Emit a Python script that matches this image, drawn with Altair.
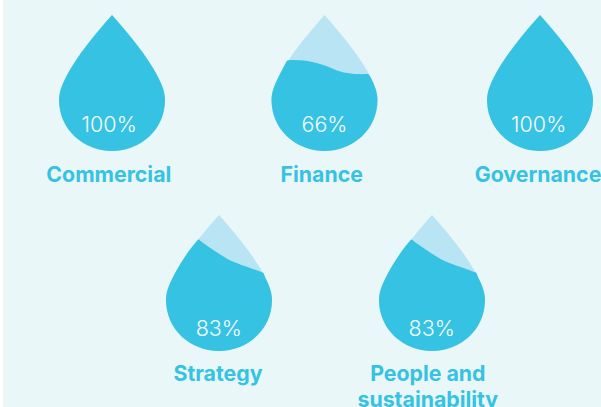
import altair as alt
import pandas as pd

# Values shown by the five drops
categories = ["Commercial", "Finance", "Governance", "Strategy", "People and\nsustainability"]
percent = [100, 66, 100, 83, 83]
slots = [0, 2, 4, 1, 3]
rows = [0, 0, 0, 1, 1]

INK = "#36C2E2"
PALE = "#B9E4F3"
PANEL = "#EAF7F9"

# Outline of a drop, in pixels from its tip (a point of size 4 draws at scale 1)
RIGHT_TAIL = "C50,70 53,77 53,85 C53,114 29,136 0,136 C-29,136 -53,114 -53,85 C-53,77 -50,70 -46,62"
DROP = f"M0,0 C16,18 36,42 46,62 {RIGHT_TAIL} C-36,42 -16,18 0,0 Z"

# Liquid outline for each fill level: a wavy surface closed along the drop's lower edge
LIQUID = {
    100: DROP,
    83: f"M-20.7,24.3 C-12,31 0,39 9,44.3 C18,49 32,53 44.3,57.7 C45,59 45.6,60.5 46,62 {RIGHT_TAIL} "
        "C-38,46 -29,34 -20.7,24.3 Z",
    66: f"M-37.5,45.5 C-22,44 -8,47 9,54 C20,59 32,59.5 43.8,59 L46,62 {RIGHT_TAIL} "
        "C-43.5,57 -40.5,51 -37.5,45.5 Z",
}

df = pd.DataFrame({
    "name": categories,
    "pct": percent,
    "pct_label": [f"{p}%" for p in percent],
    "slot": slots,
    "row": rows,
})

SLOT_DOMAIN = [0, 1, 2, 3, 4]


def x_on(pixels):
    return alt.X("slot:Q", axis=None, scale=alt.Scale(domain=SLOT_DOMAIN, range=pixels))


def y_on(first, second):
    return alt.Y("row:Q", axis=None, scale=alt.Scale(domain=[0, 1], range=[first, second]))


panel = alt.Chart(df).mark_rect(color=PANEL).encode(
    x=alt.value(3), x2=alt.value(601), y=alt.value(0), y2=alt.value(407)
)

drop_x = x_on([112, 219, 324.5, 432, 540])
drop_y = y_on(15, 215)

shell = alt.Chart(df).mark_point(
    filled=True, size=4, opacity=1, shape=DROP, color=PALE, strokeWidth=0
).encode(x=drop_x, y=drop_y)

liquid = alt.Chart(df).mark_point(filled=True, size=4, opacity=1, color=INK, strokeWidth=0).encode(
    x=drop_x,
    y=drop_y,
    shape=alt.Shape(
        "pct:N",
        legend=None,
        scale=alt.Scale(domain=list(LIQUID), range=list(LIQUID.values())),
    ),
)

pct_text = alt.Chart(df).mark_text(
    font="Inter", fontSize=21.5, fontWeight=300, color="#F6FCFE", baseline="alphabetic", align="center"
).encode(
    x=x_on([109.2, 218.8, 324.5, 431.7, 538.7]),
    y=y_on(132, 336),
    text="pct_label:N",
)

name_text = alt.Chart(df).mark_text(
    font="Inter", fontSize=21.3, fontWeight=700, color=INK, baseline="alphabetic",
    align="center", lineBreak="\n", lineHeight=26,
).encode(
    x=x_on([108.8, 218, 321.7, 427.8, 538]),
    y=y_on(181.5, 380.5),
    text="name:N",
)

chart = (
    alt.layer(panel, shell, liquid, pct_text, name_text)
    .resolve_scale(x="independent", y="independent", shape="independent")
    .properties(width=601, height=407, padding=0, autosize=alt.AutoSizeParams(type="none"),
                background="white")
    .configure_view(stroke=None)
)

chart.save("out.html", embed_options={"renderer": "svg", "actions": False})
